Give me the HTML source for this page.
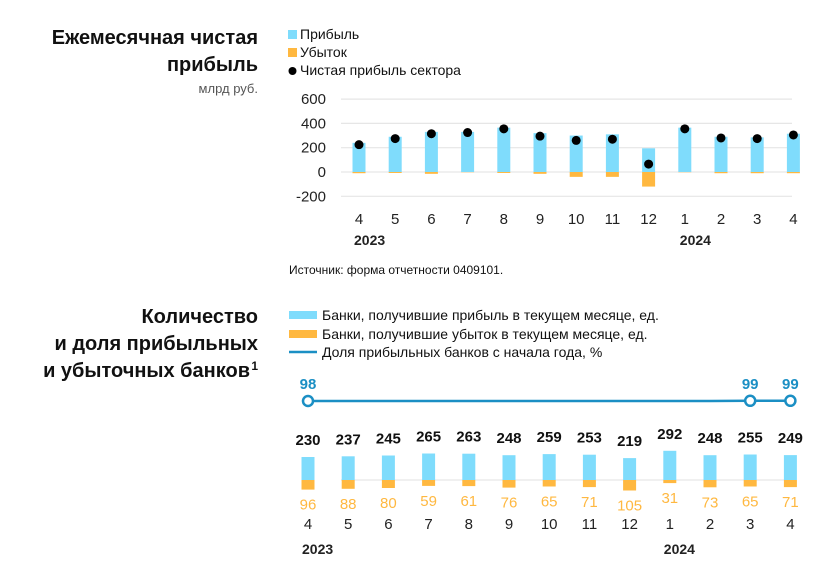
<!DOCTYPE html>
<html><head><meta charset="utf-8"><style>
body{margin:0;background:#fff;width:825px;height:570px;overflow:hidden;font-family:"Liberation Sans","DejaVu Sans",sans-serif;}
svg text{font-family:"Liberation Sans","DejaVu Sans",sans-serif;}
</style></head><body>
<svg id="s" width="825" height="570" xmlns="http://www.w3.org/2000/svg">
<g font-weight="bold" font-size="20" fill="#111" text-anchor="end">
<text x="258" y="44">Ежемесячная чистая</text>
<text x="258" y="71">прибыль</text>
</g>
<text x="258" y="93" font-size="13" fill="#555" text-anchor="end">млрд руб.</text>
<g font-size="14" fill="#111">
<rect x="288" y="30" width="9" height="9" fill="#7fdcfc"/><text x="300" y="39">Прибыль</text>
<rect x="288" y="48" width="9" height="9" fill="#ffb840"/><text x="300" y="57">Убыток</text>
<circle cx="292.5" cy="71" r="4" fill="#000"/><text x="300" y="75">Чистая прибыль сектора</text>
</g>
<g id="c1"></g>
<text x="289" y="274" font-size="12" fill="#111">Источник: форма отчетности 0409101.</text>
<g font-weight="bold" font-size="20" fill="#111" text-anchor="end">
<text x="258" y="323">Количество</text>
<text x="258" y="350">и доля прибыльных</text>
<text x="250" y="377">и убыточных банков</text>
<text x="258" y="370" font-size="12">1</text>
</g>
<g font-size="14" fill="#111">
<rect x="289" y="311" width="28" height="8" fill="#7fdcfc"/><text x="322" y="320">Банки, получившие прибыль в текущем месяце, ед.</text>
<rect x="289" y="330" width="28" height="8" fill="#ffb840"/><text x="322" y="339">Банки, получившие убыток в текущем месяце, ед.</text>
<line x1="289" y1="352" x2="317" y2="352" stroke="#1b8fc4" stroke-width="2.5"/><text x="322" y="357">Доля прибыльных банков с начала года, %</text>
</g>
<g id="c2"></g>
</svg>
<script>
const months = ["4","5","6","7","8","9","10","11","12","1","2","3","4"];
const profit = [240,290,330,330,365,320,300,310,195,365,290,285,315];
const loss = [-10,-8,-15,-2,-8,-15,-40,-40,-120,-2,-10,-10,-10];
const net = [225,275,315,325,355,295,260,270,65,355,280,275,305];
const yTicks = [600,400,200,0,-200];
const banksProfit = [230,237,245,265,263,248,259,253,219,292,248,255,249];
const banksLoss = [96,88,80,59,61,76,65,71,105,31,73,65,71];
const share = [98,98,98,98,98,98,98,98,98,98,98,99,99];
const shareLabels = ["98","","","","","","","","","","","99","99"];

const NS="http://www.w3.org/2000/svg";
function mk(p,t,a){const e=document.createElementNS(NS,t);for(const k in a)e.setAttribute(k,a[k]);p.appendChild(e);return e;}
const c1=document.getElementById('c1'), c2=document.getElementById('c2');
const y1=v=>172-v*0.1215;
const x1=i=>359+i*36.2;
yTicks.forEach(t=>{
  const l=mk(c1,'line',{x1:341,x2:792,y1:y1(t),y2:y1(t),stroke:'#e6e6e6','stroke-width':1.2});
  
  
  const tx=mk(c1,'text',{x:326,y:y1(t)+5,'font-size':15,fill:'#222','text-anchor':'end'});tx.textContent=t;
  
  
});
months.forEach((m,i)=>{
  const b=mk(c1,'rect',{x:x1(i)-6.5,y:y1(profit[i]),width:13,height:y1(0)-y1(profit[i]),fill:'#7fdcfc'});
  
  
  const o=mk(c1,'rect',{x:x1(i)-6.5,y:y1(0),width:13,height:y1(loss[i])-y1(0),fill:'#ffb840'});
  
  
  const d=mk(c1,'circle',{cx:x1(i),cy:y1(net[i]),r:4.5,fill:'#000'});
  
  
  const t=mk(c1,'text',{x:x1(i),y:224,'font-size':15,fill:'#222','text-anchor':'middle'});t.textContent=m;
  
  
});
[["2023",0],["2024",9]].forEach(([y,i])=>{const t=mk(c1,'text',{x:x1(i)-5,y:245,'font-size':14,'font-weight':'bold',fill:'#222'});t.textContent=y;
  
  });

const x2=i=>308+i*40.2;
const base=480, sc=0.1;
const ys=v=>401-(v-98)*0.2;
mk(c2,'line',{x1:341,x2:792,y1:base,y2:base,stroke:'#e6e6e6','stroke-width':1.2});
const pts=share.map((v,i)=>x2(i)+','+ys(v)).join(' ');
const pl=mk(c2,'polyline',{points:pts,fill:'none',stroke:'#1b8fc4','stroke-width':2.5});


months.forEach((m,i)=>{
  if(shareLabels[i]){
    const c=mk(c2,'circle',{cx:x2(i),cy:ys(share[i]),r:5,fill:'#fff',stroke:'#1b8fc4','stroke-width':2.5});
    
    
    const t=mk(c2,'text',{x:x2(i),y:389,'font-size':15,'font-weight':'bold',fill:'#1b8fc4','text-anchor':'middle'});t.textContent=shareLabels[i];
    
    
  }
  const top=base-banksProfit[i]*sc;
  const b=mk(c2,'rect',{x:x2(i)-6.5,y:top,width:13,height:base-top,fill:'#7fdcfc'});
  
  
  const bot=base+banksLoss[i]*sc;
  const o=mk(c2,'rect',{x:x2(i)-6.5,y:base,width:13,height:bot-base,fill:'#ffb840'});
  
  
  const t1=mk(c2,'text',{x:x2(i),y:top-12,'font-size':15,'font-weight':'bold',fill:'#111','text-anchor':'middle'});t1.textContent=banksProfit[i];
  
  
  const t2=mk(c2,'text',{x:x2(i),y:bot+20,'font-size':15,fill:'#ffb840','text-anchor':'middle'});t2.textContent=banksLoss[i];
  
  
  const t=mk(c2,'text',{x:x2(i),y:529,'font-size':15,fill:'#222','text-anchor':'middle'});t.textContent=m;
  
  
});
[["2023",0],["2024",9]].forEach(([y,i])=>{const t=mk(c2,'text',{x:x2(i)-6,y:554,'font-size':14,'font-weight':'bold',fill:'#222'});t.textContent=y;
  
  });
</script>
</body></html>
